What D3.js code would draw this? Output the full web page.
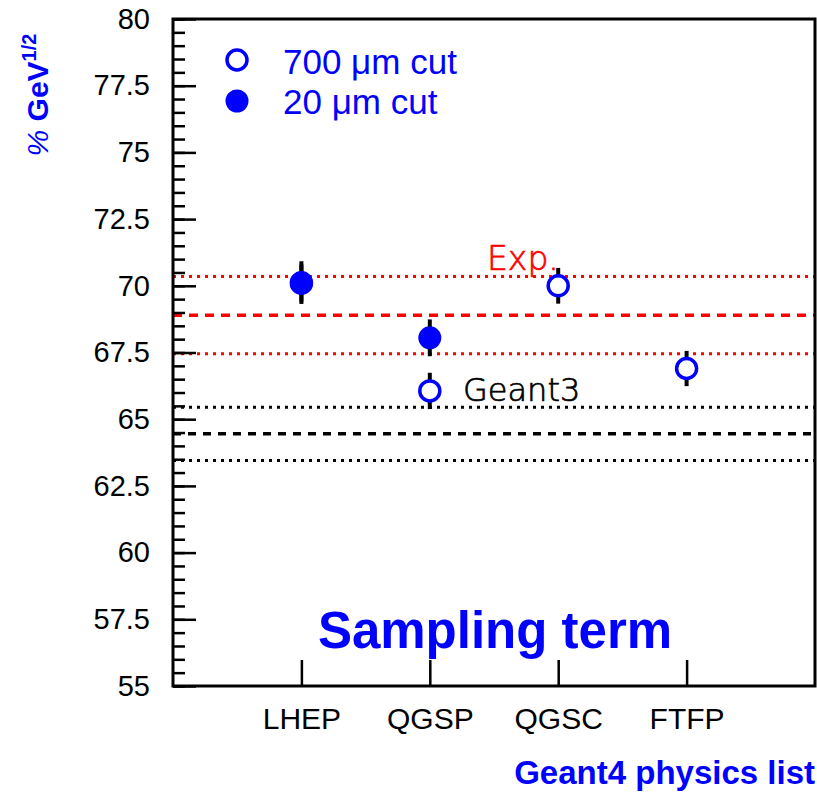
<!DOCTYPE html>
<html>
<head>
<meta charset="utf-8">
<script src="https://cdn.jsdelivr.net/npm/d3@7"></script>
<style>
  body { margin: 0; background: #fff; }
  svg { display: block; }
</style>
</head>
<body>
<div id="chart-area"></div>
<script>
// physics lists on the x axis
var categories = ["LHEP", "QGSP", "QGSC", "FTFP"];
// 700 um cut (open markers)
var cut700 = [70.1, 66.06, 70.0, 66.9];
var err700 = [0.7, 0.68, 0.67, 0.66];
// 20 um cut (filled markers), only LHEP and QGSP
var cut20 = [70.12, 68.05, null, null];
var err20 = [0.8, 0.69, null, null];
// experiment and Geant3 bands: mean and half width
var expBand = [68.9, 1.45];
var g3Band = [64.45, 1.0];
var yTicks = [55, 57.5, 60, 62.5, 65, 67.5, 70, 72.5, 75, 77.5, 80];

var W = 817, H = 795;
var pLeft = 173, pRight = 815, pTop = 19, pBottom = 686;
var blue = "#0000ff";

var svg = d3.select("#chart-area")
    .append("svg")
    .attr("width", W)
    .attr("height", H);

var x = d3.scaleLinear().domain([0, 5]).range([pLeft, pRight]);
var y = d3.scaleLinear().domain([55, 80]).range([pBottom, pTop]);

// horizontal bands
function band(b, colour, dashW) {
    var lines = [
        {v: b[0] + b[1], dash: "3,5", w: 3},
        {v: b[0], dash: dashW, w: 3.5},
        {v: b[0] - b[1], dash: "3,5", w: 3}
    ];
    svg.selectAll(null).data(lines).enter()
        .append("line")
        .attr("x1", pLeft)
        .attr("x2", pRight)
        .attr("y1", d => y(d.v))
        .attr("y2", d => y(d.v))
        .attr("stroke", colour)
        .attr("stroke-width", d => d.w)
        .attr("stroke-dasharray", d => d.dash);
}
band(expBand, "#ff0000", "9,7");
band(g3Band, "#000000", "8,7");

// minor y ticks
svg.append("g")
    .attr("transform", "translate(" + pLeft + ",0)")
    .call(d3.axisLeft(y).tickValues(d3.range(55, 80.01, 0.5)).tickSize(-12).tickFormat(""))
    .call(g => g.select(".domain").remove())
    .selectAll("line").attr("stroke", "#000").attr("stroke-width", 2.5);

// major y ticks + labels
svg.append("g")
    .attr("transform", "translate(" + pLeft + ",0)")
    .call(d3.axisLeft(y).tickValues(yTicks).tickSizeInner(-23).tickSizeOuter(0).tickPadding(23)
        .tickFormat(d => d3.format("")(d)))
    .call(g => g.select(".domain").remove())
    .call(g => g.selectAll("line").attr("stroke", "#000").attr("stroke-width", 2.5))
    .call(g => g.selectAll("text")
        .attr("fill", "#000")
        .style("font-family", "'Liberation Sans', Arial, sans-serif")
        .style("font-size", "29px"));

// x ticks + category labels
svg.append("g")
    .attr("transform", "translate(0," + pBottom + ")")
    .call(d3.axisBottom(x).tickValues([1, 2, 3, 4]).tickSizeInner(-26).tickSizeOuter(0).tickPadding(22)
        .tickFormat((d, i) => categories[i]))
    .call(g => g.select(".domain").remove())
    .call(g => g.selectAll("line").attr("stroke", "#000").attr("stroke-width", 2.5))
    .call(g => g.selectAll("text")
        .attr("fill", "#000")
        .style("font-family", "'Liberation Sans', Arial, sans-serif")
        .style("font-size", "30px"));

// frame
svg.append("rect")
    .attr("x", pLeft).attr("y", pTop)
    .attr("width", pRight - pLeft).attr("height", pBottom - pTop)
    .attr("fill", "none").attr("stroke", "#000").attr("stroke-width", 3);

// points
var pts700 = categories.map((c, i) => ({i: i + 1, v: cut700[i], e: err700[i]}));
var pts20 = categories.map((c, i) => ({i: i + 1, v: cut20[i], e: err20[i]})).filter(d => d.v != null);

function errBars(data) {
    svg.selectAll(null).data(data).enter()
        .append("line")
        .attr("x1", d => x(d.i)).attr("x2", d => x(d.i))
        .attr("y1", d => y(d.v - d.e)).attr("y2", d => y(d.v + d.e))
        .attr("stroke", "#000").attr("stroke-width", 4);
}
errBars(pts700);
errBars(pts20);

svg.selectAll(null).data(pts700).enter()
    .append("circle")
    .attr("cx", d => x(d.i)).attr("cy", d => y(d.v))
    .attr("r", 10)
    .attr("fill", "#fff").attr("stroke", blue).attr("stroke-width", 3.5);

svg.selectAll(null).data(pts20).enter()
    .append("circle")
    .attr("cx", d => x(d.i)).attr("cy", d => y(d.v))
    .attr("r", 11.5)
    .attr("fill", blue);

// band labels
svg.append("text")
    .attr("x", 487).attr("y", 270)
    .attr("fill", "#ff0000")
    .attr("stroke", "#ff0000").attr("stroke-width", 0.7)
    .style("font-family", "'DejaVu Sans', sans-serif")
    .style("font-weight", 200)
    .style("font-size", "33px")
    .text("Exp.");
svg.append("text")
    .attr("x", 463).attr("y", 401)
    .attr("fill", "#000")
    .attr("stroke", "#000").attr("stroke-width", 0.7)
    .style("font-family", "'DejaVu Sans', sans-serif")
    .style("font-weight", 200)
    .style("font-size", "32px")
    .text("Geant3");

// legend
svg.append("circle").attr("cx", 237).attr("cy", 60).attr("r", 10)
    .attr("fill", "#fff").attr("stroke", blue).attr("stroke-width", 3.5);
svg.append("circle").attr("cx", 237).attr("cy", 101).attr("r", 11.5).attr("fill", blue);
var legText = ["700 \u03bcm cut", "20 \u03bcm cut"];
svg.selectAll(null).data(legText).enter()
    .append("text")
    .attr("x", 283)
    .attr("y", (d, i) => 74 + i * 40)
    .attr("fill", blue)
    .style("font-family", "'Liberation Sans', Arial, sans-serif")
    .style("font-size", "35px")
    .text(d => d);

// title inside the frame
svg.append("text")
    .attr("x", 495).attr("y", 648)
    .attr("text-anchor", "middle")
    .attr("fill", blue)
    .style("font-family", "'Liberation Sans', Arial, sans-serif")
    .style("font-weight", "bold")
    .style("font-size", "51px")
    .text("Sampling term");

// x axis title
svg.append("text")
    .attr("x", 815).attr("y", 784)
    .attr("text-anchor", "end")
    .attr("fill", blue)
    .style("font-family", "'Liberation Sans', Arial, sans-serif")
    .style("font-weight", "bold")
    .style("font-size", "33px")
    .text("Geant4 physics list");

// y axis title
var yt = svg.append("text")
    .attr("transform", "translate(48,95) rotate(-90)")
    .attr("text-anchor", "middle")
    .attr("fill", blue)
    .style("font-family", "'Liberation Sans', Arial, sans-serif")
    .style("font-size", "30px");
yt.append("tspan").style("font-style", "italic").text("% ");
yt.append("tspan").style("font-weight", "bold").text("GeV");
yt.append("tspan").style("font-weight", "bold").style("font-size", "20px").attr("dy", -12).text("1/2");
</script>
</body>
</html>
